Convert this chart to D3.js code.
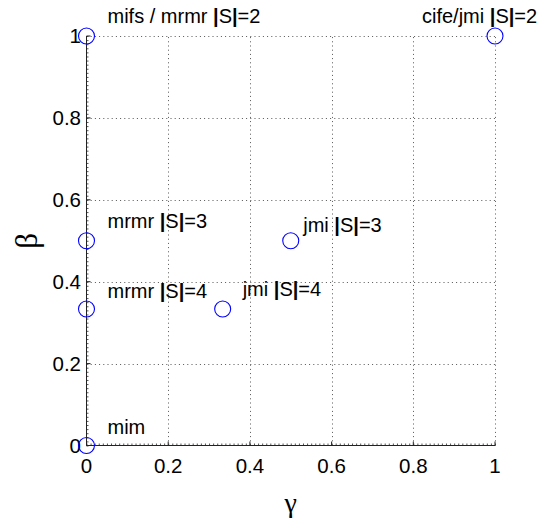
<!DOCTYPE html>
<html>
<head>
<meta charset="utf-8">
<script src="https://cdn.jsdelivr.net/npm/d3@7"></script>
<style>
  html, body { margin: 0; padding: 0; background: #fff; }
  svg { display: block; }
  text { font-family: "Liberation Sans", Arial, Helvetica, sans-serif; fill: #000; }
</style>
</head>
<body>
<svg id="chart" width="541" height="520"></svg>
<script>
// Criterion settings: gamma (x) and beta (y) for each feature-selection method
const methods = ["mifs / mrmr |S|=2", "cife/jmi |S|=2", "mrmr |S|=3", "jmi |S|=3", "mrmr |S|=4", "jmi |S|=4", "mim"];
const gammaValues = [0, 1, 0, 1/2, 0, 1/3, 0];
const betaValues  = [1, 1, 1/2, 1/2, 1/3, 1/3, 0];
const tickValues = [0, 0.2, 0.4, 0.6, 0.8, 1];
const tickLabels = ["0", "0.2", "0.4", "0.6", "0.8", "1"];

const svg = d3.select("#chart");
const x = d3.scaleLinear().domain([0, 1]).range([86.5, 495]);
const y = d3.scaleLinear().domain([0, 1]).range([445.5, 36]);

// Label placement relative to each marker (pixels): [dx, dy to baseline]
const labelNudge = [[21, -13], [-73, -13], [21, -12.5], [12.5, -8.5], [21, -11.5], [20, -13.5], [21, -12]];

// Dotted grid
const grid = svg.append("g").attr("stroke", "#555").attr("stroke-width", 1)
  .attr("stroke-dasharray", "1,3.2").attr("fill", "none");
grid.selectAll("line.v").data(tickValues.slice(1)).join("line")
  .attr("x1", d => Math.round(x(d)) + 0.5).attr("x2", d => Math.round(x(d)) + 0.5)
  .attr("y1", y(0)).attr("y2", y(1));
grid.selectAll("line.h").data(tickValues.slice(1)).join("line")
  .attr("y1", d => Math.round(y(d)) + 0.5).attr("y2", d => Math.round(y(d)) + 0.5)
  .attr("x1", x(0)).attr("x2", x(1));

// Axes (left and bottom only), with inward minor ticks
const minor = d3.range(0, 101).map(i => i / 100);
const xAxis = d3.axisBottom(x).tickValues(minor).tickSize(-2).tickFormat("");
const yAxis = d3.axisLeft(y).tickValues(minor).tickSize(-2).tickFormat("");
const gx = svg.append("g").attr("transform", `translate(0,${y(0)})`).call(xAxis);
const gy = svg.append("g").attr("transform", `translate(${x(0)},0)`).call(yAxis);
[gx, gy].forEach(g => {
  g.select(".domain").remove();
  g.selectAll(".tick line").attr("stroke", "#555");
});
svg.append("line").attr("x1", x(0)).attr("x2", x(1)).attr("y1", y(0)).attr("y2", y(0))
  .attr("stroke", "#222");
svg.append("line").attr("x1", x(0)).attr("x2", x(0)).attr("y1", y(0)).attr("y2", y(1))
  .attr("stroke", "#222");
// Major ticks slightly longer
svg.append("g").selectAll("line").data(tickValues).join("line")
  .attr("x1", d => x(d)).attr("x2", d => x(d)).attr("y1", y(0)).attr("y2", y(0) - 4)
  .attr("stroke", "#222");
svg.append("g").selectAll("line").data(tickValues).join("line")
  .attr("y1", d => y(d)).attr("y2", d => y(d)).attr("x1", x(0)).attr("x2", x(0) + 4)
  .attr("stroke", "#222");

// Tick labels
svg.append("g").selectAll("text").data(tickValues).join("text")
  .attr("x", d => x(d)).attr("y", 473)
  .attr("text-anchor", "middle").attr("font-size", "20.5px")
  .text((d, i) => tickLabels[i]);
svg.append("g").selectAll("text").data(tickValues).join("text")
  .attr("x", 81).attr("y", d => y(d) + 7)
  .attr("text-anchor", "end").attr("font-size", "20.5px")
  .text((d, i) => tickLabels[i]);

// Axis titles
svg.append("text").attr("x", (x(0) + x(1)) / 2).attr("y", 512)
  .attr("text-anchor", "middle").attr("font-size", "28px")
  .style("font-family", "'Liberation Serif', 'DejaVu Serif', serif")
  .text("γ");
svg.append("text").attr("transform", `translate(37,${(y(0) + y(1)) / 2}) rotate(-90)`)
  .attr("text-anchor", "middle").attr("font-size", "31px")
  .style("font-family", "'Liberation Serif', 'DejaVu Serif', serif")
  .text("β");

// Markers
svg.append("g").selectAll("circle").data(methods).join("circle")
  .attr("cx", (d, i) => x(gammaValues[i]))
  .attr("cy", (d, i) => y(betaValues[i]))
  .attr("r", 8).attr("fill", "none").attr("stroke", "#0000ff").attr("stroke-width", 1.1);

// Method labels; the set-size bars are drawn heavier
const labels = svg.append("g").selectAll("text").data(methods).join("text")
  .attr("x", (d, i) => x(gammaValues[i]) + labelNudge[i][0])
  .attr("y", (d, i) => y(betaValues[i]) + labelNudge[i][1])
  .attr("font-size", "20px");
labels.each(function(d) {
  const t = d3.select(this);
  d.split(/(\|)/).filter(s => s.length).forEach(part => {
    t.append("tspan").attr("font-weight", part === "|" ? "bold" : null).text(part);
  });
});
</script>
</body>
</html>
